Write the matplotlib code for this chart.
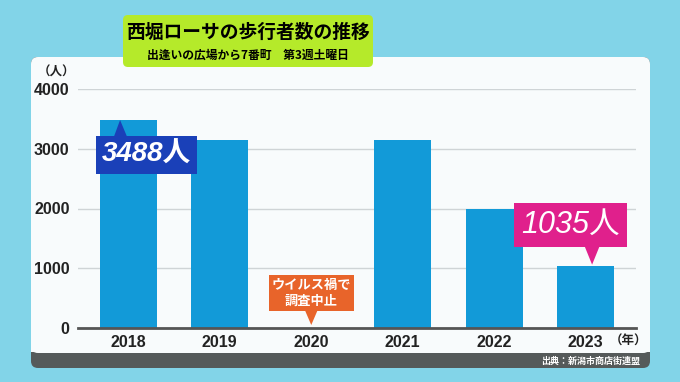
import matplotlib.pyplot as plt
from matplotlib.patches import FancyBboxPatch, Rectangle, Polygon

plt.rcParams['font.family'] = ['Noto Sans CJK JP', 'DejaVu Sans']

years = ['2018', '2019', '2020', '2021', '2022', '2023']
walkers = [3488, 3150, 0, 3140, 2000, 1035]
yticks = [0, 1000, 2000, 3000, 4000]

W, H = 680, 382
fig = plt.figure(figsize=(W / 100, H / 100), dpi=100)
fig.patch.set_facecolor('#82d4e8')

# background layer in pixel coordinates
bg = fig.add_axes([0, 0, 1, 1], zorder=0)
bg.set_xlim(0, W)
bg.set_ylim(H, 0)
bg.axis('off')

bg.add_patch(FancyBboxPatch((31, 57), 619, 311, boxstyle='round,pad=0,rounding_size=7',
                            fc='#555a5a', ec='none'))
bg.add_patch(FancyBboxPatch((31, 57), 619, 296, boxstyle='round,pad=0,rounding_size=7',
                            fc='#f8fbfc', ec='none'))
bg.add_patch(Rectangle((31, 335), 619, 17, fc='#f8fbfc', ec='none'))

bg.text(38, 72, '（人）', fontsize=9, fontweight='bold', va='center', ha='left', color='#222222')
bg.text(647, 341, '（年）', fontsize=9, fontweight='bold', va='center', ha='right', color='#222222')
bg.text(640, 361, '出典：新潟市商店街連盟', fontsize=6.5, fontweight='bold', va='center', ha='right',
        color='white')

# title box
bg.add_patch(FancyBboxPatch((123, 15), 250, 52, boxstyle='round,pad=0,rounding_size=5',
                            fc='#b5ea2a', ec='none', zorder=3))
bg.text(248, 32, '西堀ローサの歩行者数の推移', fontsize=13.5, fontweight='bold', ha='center',
        va='center', color='black', zorder=4)
bg.text(248, 55, '出逢いの広場から7番町　第3週土曜日', fontsize=8.5, fontweight='bold', ha='center',
        va='center', color='black', zorder=4)

ax = fig.add_axes([78 / W, 1 - 328 / H, (636 - 78) / W, (328 - 89) / H], zorder=2)
ax.set_facecolor('none')
x = list(range(len(years)))
ax.bar(x, walkers, width=0.62, color='#129ad8', zorder=2)
ax.set_xlim(-0.55, 5.55)
ax.set_ylim(0, 4000)
ax.set_yticks(yticks)
ax.set_yticklabels([str(v) for v in yticks], fontsize=11.5, family='Liberation Sans', fontweight='bold')
ax.set_xticks(x)
ax.set_xticklabels(years, fontsize=11.5, family='Liberation Sans', fontweight='bold')
ax.tick_params(axis='both', length=0, pad=6, colors='#222222')
ax.tick_params(axis='x', pad=5)
for s in ['top', 'right', 'left']:
    ax.spines[s].set_visible(False)
ax.spines['bottom'].set_color('#555555')
ax.spines['bottom'].set_linewidth(2)
ax.grid(axis='y', color='#cfd4d6', linewidth=1, zorder=0)
ax.set_axisbelow(True)

# callouts
ax.add_patch(Polygon([[-0.17, 3150], [0.0, 3150], [-0.09, 3481]], closed=True,
                     fc='#1a40b8', ec='none', zorder=4, clip_on=False))
ax.text(0.2, 2895, '3488人', fontsize=20, style='italic', fontweight='bold',
        family=['Liberation Sans', 'Noto Sans CJK JP'], color='white', ha='center', va='center', zorder=5,
        bbox=dict(boxstyle='square,pad=0.2', fc='#1a40b8', ec='none'))

ax.add_patch(Polygon([[4.98, 1400], [5.16, 1400], [5.07, 1060]], closed=True,
                     fc='#e0208c', ec='none', zorder=4, clip_on=False))
ax.text(4.83, 1724, '1035人', fontsize=22, style='italic',
        family=['Liberation Sans', 'Noto Sans CJK JP'], color='white', ha='center', va='center', zorder=5,
        bbox=dict(boxstyle='square,pad=0.24', fc='#e0208c', ec='none'), clip_on=False)

ax.add_patch(Polygon([[1.93, 300], [2.07, 300], [2.0, 50]], closed=True,
                     fc='#e8642a', ec='none', zorder=4, clip_on=False))
ax.text(2.0, 586, 'ウイルス禍で\n調査中止', fontsize=9.5, fontweight='bold', color='white',
        ha='center', va='center', linespacing=1.15, zorder=5,
        bbox=dict(boxstyle='square,pad=0.22', fc='#e8642a', ec='none'))

fig.savefig('out.png', dpi=100, facecolor=fig.get_facecolor())
